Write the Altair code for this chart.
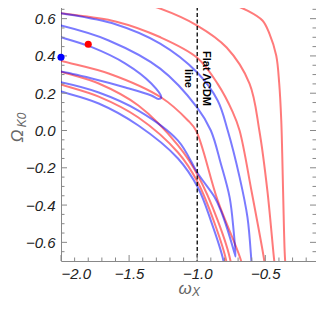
import altair as alt
import pandas as pd

# ---------------- data (data units) ----------------
# red contours
red_a_x = [-0.90, -0.813, -0.631, -0.521, -0.470, -0.420, -0.398, -0.383, -0.376, -0.368, -0.358, -0.350]
red_a_y = [0.72, 0.697, 0.643, 0.590, 0.520, 0.402, 0.252, 0.054, -0.123, -0.375, -0.650, -0.75]
red_b_x = [-1.60, -1.483, -1.272, -1.0, -0.784, -0.616, -0.544, -0.485, -0.434, -0.425]
red_b_y = [0.725, 0.697, 0.654, 0.563, 0.445, 0.252, 0.0, -0.322, -0.702, -0.75]
red_c_x = [-2.05, -2.0, -1.6, -1.27, -1.0, -0.85, -0.74, -0.689, -0.6, -0.507, -0.50]
red_c_y = [0.635, 0.629, 0.585, 0.50, 0.39, 0.25, 0.10, 0.0, -0.33, -0.702, -0.75]
red_d_x = [-2.05, -2.0, -1.65, -1.264, -1.068, -1.009, -0.85, -0.677, -0.67]
red_d_y = [0.39, 0.375, 0.306, 0.177, 0.054, 0.0, -0.375, -0.702, -0.75]
red_e_x = [-2.05, -2.0, -1.723, -1.432, -1.141, -0.995, -0.849, -0.755, -0.75]
red_e_y = [0.33, 0.316, 0.252, 0.134, -0.080, -0.241, -0.483, -0.702, -0.75]
red_f_x = [-2.05, -2.0, -1.723, -1.432, -1.141, -0.995, -0.864, -0.786, -0.78]
red_f_y = [0.26, 0.247, 0.182, 0.070, -0.118, -0.279, -0.515, -0.702, -0.75]

# blue contours
blue_a_x = [-2.05, -2.0, -1.6, -1.272, -1.0, -0.85, -0.776, -0.689, -0.631, -0.602, -0.597]
blue_a_y = [0.635, 0.629, 0.57, 0.466, 0.311, 0.161, 0.0, -0.25, -0.466, -0.702, -0.75]
blue_b_x = [-2.05, -2.0, -1.65, -1.272, -1.0, -0.900, -0.827, -0.762, -0.733, -0.718,
            -0.725, -0.776, -0.827, -0.871, -0.995, -1.141, -1.432, -1.723, -2.0, -2.05]
blue_b_y = [0.57, 0.563, 0.483, 0.332, 0.123, 0.0, -0.177, -0.359, -0.536, -0.676,
            -0.66, -0.536, -0.429, -0.359, -0.231, -0.054, 0.107, 0.204, 0.259, 0.265]
blue_c_x = [-2.05, -2.0, -1.774, -1.527, -1.337, -1.264, -1.286, -1.337, -1.527, -1.774, -2.0, -2.05]
blue_c_y = [0.51, 0.50, 0.447, 0.359, 0.252, 0.177, 0.169, 0.188, 0.231, 0.279, 0.316, 0.32]
blue_d_x = [-2.05, -2.0, -1.723, -1.432, -1.141, -0.995, -0.900, -0.808, -0.80]
blue_d_y = [0.22, 0.209, 0.145, 0.027, -0.150, -0.306, -0.483, -0.697, -0.75]

# marked points
dot_x = [-1.80, -2.0]
dot_y = [0.463, 0.393]
dot_color = ["red", "blue"]

# flat LCDM line
lcdm_x = [-1.0]
lcdm_label_y = [0.279]
lcdm_label = [["Flat \u039bCDM", "line"]]

# axis ticks
x_major = [-2.0, -1.5, -1.0, -0.5]
x_minor = [-1.9, -1.8, -1.7, -1.6, -1.4, -1.3, -1.2, -1.1, -0.9, -0.8, -0.7, -0.6, -0.4, -0.3, -0.2]
y_major = [-0.6, -0.4, -0.2, 0.0, 0.2, 0.4, 0.6]
y_minor = [-0.65, -0.55, -0.5, -0.45, -0.35, -0.3, -0.25, -0.15, -0.1, -0.05,
           0.05, 0.1, 0.15, 0.25, 0.3, 0.35, 0.45, 0.5, 0.55, 0.65]

X_DOMAIN = [-2.0, -0.128]
Y_DOMAIN = [-0.7, 0.7]
W, H = 255, 261

# ---------------- build tables ----------------
curves = [
    ("ra", "red", red_a_x, red_a_y), ("rb", "red", red_b_x, red_b_y),
    ("rc", "red", red_c_x, red_c_y), ("rd", "red", red_d_x, red_d_y),
    ("re", "red", red_e_x, red_e_y), ("rf", "red", red_f_x, red_f_y),
    ("ba", "blue", blue_a_x, blue_a_y), ("bb", "blue", blue_b_x, blue_b_y),
    ("bc", "blue", blue_c_x, blue_c_y), ("bd", "blue", blue_d_x, blue_d_y),
]
rows = []
for name, col, xs_, ys_ in curves:
    for i, (xv, yv) in enumerate(zip(xs_, ys_)):
        rows.append({"curve": name, "col": col, "i": i, "x": xv, "y": yv})
df = pd.DataFrame(rows)

xs = alt.Scale(domain=X_DOMAIN, nice=False, zero=False)
ys = alt.Scale(domain=Y_DOMAIN, nice=False, zero=False)
cscale = alt.Scale(domain=["red", "blue"], range=["#FF0000", "#0000FF"])

lines = alt.Chart(df).mark_line(
    clip=True, strokeWidth=2, strokeOpacity=0.52, interpolate="catmull-rom"
).encode(
    x=alt.X("x:Q", scale=xs, axis=alt.Axis(values=x_major, format=".1f", ticks=False, domain=False,
                                             grid=False, title=None, labelFontSize=15,
                                             labelFontStyle="italic", labelColor="#222",
                                             labelFont="Liberation Sans", labelPadding=5)),
    y=alt.Y("y:Q", scale=ys, axis=alt.Axis(values=y_major, format=".1f", ticks=False, domain=False,
                                             grid=False, title=None, labelFontSize=15,
                                             labelFontStyle="italic", labelColor="#222",
                                             labelFont="Liberation Sans", labelPadding=6)),
    color=alt.Color("col:N", scale=cscale, legend=None),
    detail="curve:N",
    order="i:Q",
)

dash = alt.Chart(pd.DataFrame({"x": lcdm_x})).mark_rule(
    color="black", strokeDash=[4, 2.5], strokeWidth=1.3
).encode(x=alt.X("x:Q", scale=xs))

label = alt.Chart(pd.DataFrame({"x": lcdm_x, "y": lcdm_label_y, "t": lcdm_label})).mark_text(
    angle=90, align="center", baseline="middle", fontSize=11, fontWeight="bold",
    font="Liberation Sans", lineHeight=18, color="black", dy=-9
).encode(x=alt.X("x:Q", scale=xs), y=alt.Y("y:Q", scale=ys), text="t")

dots = alt.Chart(pd.DataFrame({"x": dot_x, "y": dot_y, "c": dot_color})).mark_point(
    filled=True, size=50, opacity=1, clip=False
).encode(x=alt.X("x:Q", scale=xs), y=alt.Y("y:Q", scale=ys),
         color=alt.Color("c:N", scale=cscale, legend=None))

tick_col = "#888"
xmaj = pd.DataFrame({"v": x_major})
xmin = pd.DataFrame({"v": x_minor})
ymaj = pd.DataFrame({"v": y_major})
ymin = pd.DataFrame({"v": y_minor})

def xticks(d, ln):
    b = alt.Chart(d).mark_rule(color=tick_col, strokeWidth=1).encode(
        x=alt.X("v:Q", scale=xs), y=alt.value(H), y2=alt.value(H - ln))
    t = alt.Chart(d).mark_rule(color=tick_col, strokeWidth=1).encode(
        x=alt.X("v:Q", scale=xs), y=alt.value(0), y2=alt.value(ln))
    return b + t

def yticks(d, ln):
    l = alt.Chart(d).mark_rule(color=tick_col, strokeWidth=1).encode(
        y=alt.Y("v:Q", scale=ys), x=alt.value(0), x2=alt.value(ln))
    r = alt.Chart(d).mark_rule(color=tick_col, strokeWidth=1).encode(
        y=alt.Y("v:Q", scale=ys), x=alt.value(W), x2=alt.value(W - ln))
    return l + r

title_col = "#666"
t_omega = alt.Chart(pd.DataFrame({"t": ["\u03a9"]})).mark_text(
    angle=270, fontSize=17, fontStyle="italic", font="Liberation Sans", color=title_col,
    align="center", baseline="middle").encode(x=alt.value(-43), y=alt.value(136), text="t")
t_k0 = alt.Chart(pd.DataFrame({"t": ["K0"]})).mark_text(
    angle=270, fontSize=12, fontStyle="italic", font="Liberation Sans", color=title_col,
    align="center", baseline="middle").encode(x=alt.value(-39), y=alt.value(120), text="t")
t_w = alt.Chart(pd.DataFrame({"t": ["\u03c9"]})).mark_text(
    fontSize=17, fontStyle="italic", font="Liberation Sans", color=title_col,
    align="center", baseline="middle").encode(x=alt.value(124), y=alt.value(289), text="t")
t_x = alt.Chart(pd.DataFrame({"t": ["X"]})).mark_text(
    fontSize=12, fontStyle="italic", font="Liberation Sans", color=title_col,
    align="center", baseline="middle").encode(x=alt.value(135), y=alt.value(292), text="t")

chart = alt.layer(
    lines, dash, label,
    xticks(xmaj, 6), xticks(xmin, 3.5), yticks(ymaj, 6), yticks(ymin, 3.5),
    dots, t_omega, t_k0, t_w, t_x,
).properties(
    width=W, height=H,
    autosize=alt.AutoSizeParams(type="none"),
    padding={"left": 53, "top": -8, "right": 0, "bottom": 39},
).configure_view(stroke="#888", strokeWidth=1)

chart.save("out.html", embed_options={"renderer": "svg", "actions": False})
